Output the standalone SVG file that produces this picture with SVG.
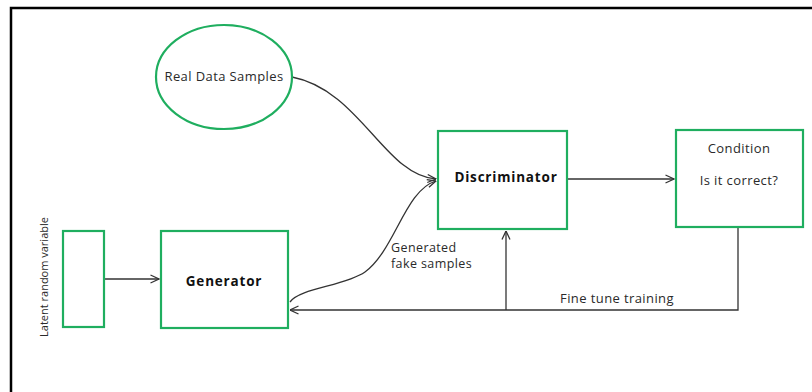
<svg xmlns="http://www.w3.org/2000/svg" width="812" height="392" viewBox="0 0 812 392">
<defs>
<style>
.node{fill:#fff;stroke:#1fae5f;stroke-width:2.2}
.t{font-family:"Open Sans","Liberation Sans",sans-serif;font-size:13px;letter-spacing:0.4px;fill:#2a2a2a;text-anchor:middle}
.b{font-weight:bold;font-size:13.5px;letter-spacing:0.8px;fill:#111}
.c{fill:none;stroke:#333;stroke-width:1.3}
</style>
<marker id="ah" viewBox="0 0 10 10" refX="9.5" refY="5" markerWidth="10" markerHeight="10" markerUnits="userSpaceOnUse" orient="auto">
<path d="M1,1 L9.5,5 L1,9" fill="none" stroke="#333" stroke-width="1.3"/>
</marker>
</defs>
<rect x="0" y="0" width="812" height="392" fill="#fff"/>
<path d="M11,392 V8 H812" fill="none" stroke="#000" stroke-width="2.5"/>
<g id="connectors">
<path class="c" d="M104,279 H159" marker-end="url(#ah)"/>
<path class="c" d="M292,77 C360,90 385,176 436,179" marker-end="url(#ah)"/>
<path class="c" d="M290,302 C300,288 345,286 365,272 C395,250 405,190 436,181" marker-end="url(#ah)"/>
<path class="c" d="M567,179 H674" marker-end="url(#ah)"/>
<path class="c" d="M738,228 V310 H290" marker-end="url(#ah)"/>
<path class="c" d="M506,310 V231" marker-end="url(#ah)"/>
</g>
<g id="real">
<ellipse class="node" cx="224" cy="77" rx="68" ry="52"/>
<text class="t" x="224" y="81">Real Data Samples</text>
</g>
<g id="latent">
<rect class="node" x="63" y="231" width="41" height="96"/>
<text class="t" transform="translate(48,277) rotate(-90)" style="font-size:11px;letter-spacing:0">Latent random variable</text>
</g>
<g id="generator">
<rect class="node" x="161" y="231" width="127" height="97"/>
<text class="t b" x="224" y="286">Generator</text>
</g>
<g id="discriminator">
<rect class="node" x="438" y="131" width="129" height="98"/>
<text class="t b" x="506" y="182">Discriminator</text>
</g>
<g id="condition">
<rect class="node" x="676" y="130" width="127" height="97"/>
<text class="t" x="739" y="153">Condition</text>
<text class="t" x="739" y="185">Is it correct?</text>
</g>
<g id="labels">
<text class="t" x="391" y="252" style="text-anchor:start;font-size:12.5px">Generated</text>
<text class="t" x="391" y="268" style="text-anchor:start;font-size:12.5px">fake samples</text>
<text class="t" x="617" y="303">Fine tune training</text>
</g>
</svg>
